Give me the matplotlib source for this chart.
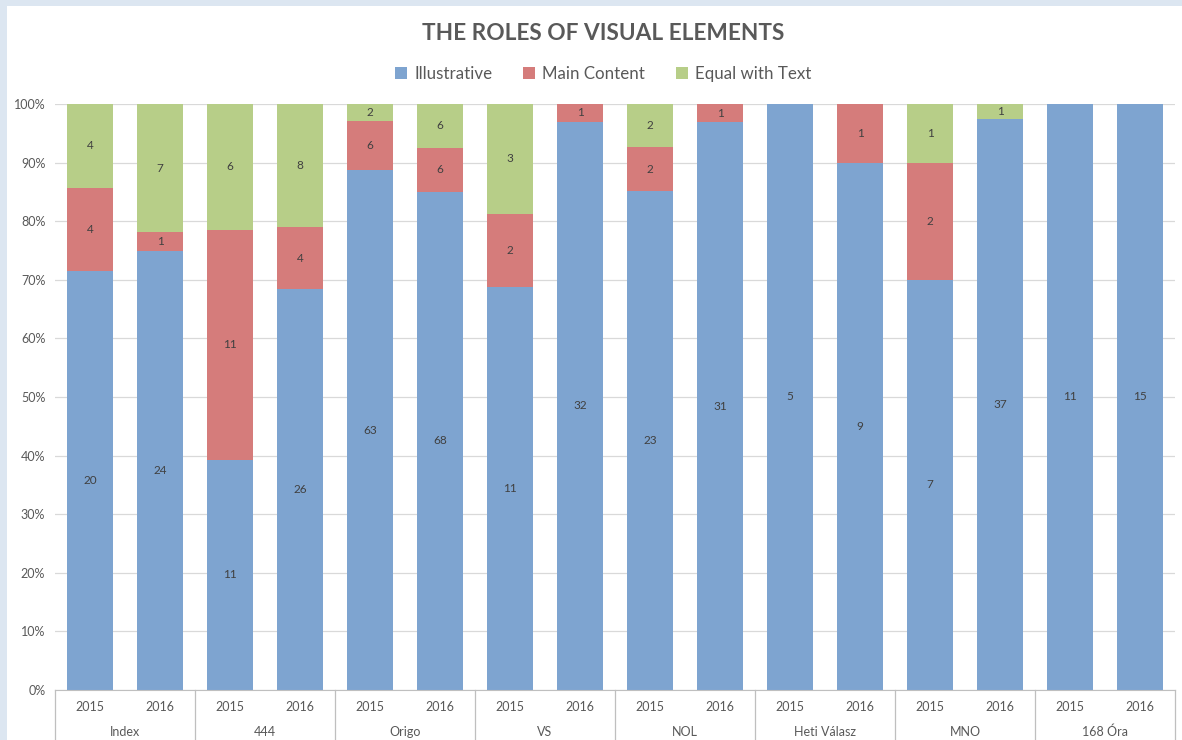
import numpy as np
import matplotlib.pyplot as plt
from matplotlib.patches import Rectangle

plt.rcParams['font.family'] = ['Lato', 'DejaVu Sans']

outlets = ['Index', '444', 'Origo', 'VS', 'NOL', 'Heti Válasz', 'MNO', '168 Óra']
years = ['2015', '2016']

# counts per bar (outlet x year), in order Index 2015, Index 2016, 444 2015, ...
illustrative = [20, 24, 11, 26, 63, 68, 11, 32, 23, 31, 5, 9, 7, 37, 11, 15]
main_content = [4, 1, 11, 4, 6, 6, 2, 1, 2, 1, 0, 1, 2, 0, 0, 0]
equal_text = [4, 7, 6, 8, 2, 6, 3, 0, 2, 0, 0, 0, 1, 1, 0, 0]

series = [('Illustrative', illustrative, '#7ea4d0'),
          ('Main Content', main_content, '#d57c7b'),
          ('Equal with Text', equal_text, '#b7ce88')]

W, H = 1182, 740
fig = plt.figure(figsize=(W / 100, H / 100), dpi=100)
fig.patch.set_facecolor('#dce6f1')
fig.patches.append(Rectangle((7 / W, 0), 1 - 7 / W, 1 - 6 / H, transform=fig.transFigure,
                             facecolor='white', edgecolor='none', zorder=-10))

ax = fig.add_axes([55 / W, (H - 690) / H, (1175 - 55) / W, (690 - 104) / H])
ax.set_facecolor('none')

totals = np.array(illustrative) + np.array(main_content) + np.array(equal_text)
x = np.arange(len(totals))
bottom = np.zeros(len(totals))
for name, vals, color in series:
    share = np.array(vals) / totals
    ax.bar(x, share, 0.67, bottom=bottom, color=color, label=name, zorder=2)
    for xi, v, s, b in zip(x, vals, share, bottom):
        if v > 0:
            ax.text(xi, b + s / 2, str(v), ha='center', va='center',
                    fontsize=8.5, color='#404040', zorder=3)
    bottom += share

ax.set_xlim(-0.5, len(totals) - 0.5)
ax.set_ylim(0, 1)
ax.set_yticks(np.arange(0, 1.01, 0.1))
ax.set_yticklabels([f'{int(round(t * 100))}%' for t in np.arange(0, 1.01, 0.1)])
ax.tick_params(axis='y', length=0, pad=7, labelsize=9, labelcolor='#595959')
ax.grid(axis='y', color='#d9d9d9', linewidth=0.9, zorder=0)
ax.set_xticks([])
for sp in ['top', 'right', 'left']:
    ax.spines[sp].set_visible(False)
ax.spines['bottom'].set_color('#bfbfbf')
ax.spines['bottom'].set_zorder(4)

# two-level category axis
trans = ax.get_xaxis_transform()
for i, xi in enumerate(x):
    ax.text(xi, -17 / 586, years[i % 2], transform=trans, ha='center', va='center',
            fontsize=9, color='#595959')
for g, name in enumerate(outlets):
    ax.text(2 * g + 0.5, -42 / 586, name, transform=trans, ha='center', va='center',
            fontsize=9, color='#595959')
for g in range(len(outlets) + 1):
    ax.plot([2 * g - 0.5, 2 * g - 0.5], [0, -52 / 586], transform=trans,
            color='#bfbfbf', linewidth=0.9, clip_on=False)

fig.text(603 / W, 1 - 34 / H, 'THE ROLES OF VISUAL ELEMENTS', ha='center', va='center',
         fontsize=16.3, fontweight='bold', color='#595959')
fig.legend(loc='center', bbox_to_anchor=(603 / W, 1 - 74 / H), ncol=3, frameon=False,
           fontsize=12.2, handlelength=0.75, handleheight=0.75, handletextpad=0.4,
           columnspacing=1.8, labelcolor='#595959')

fig.savefig('out.png', dpi=100, facecolor=fig.get_facecolor())
